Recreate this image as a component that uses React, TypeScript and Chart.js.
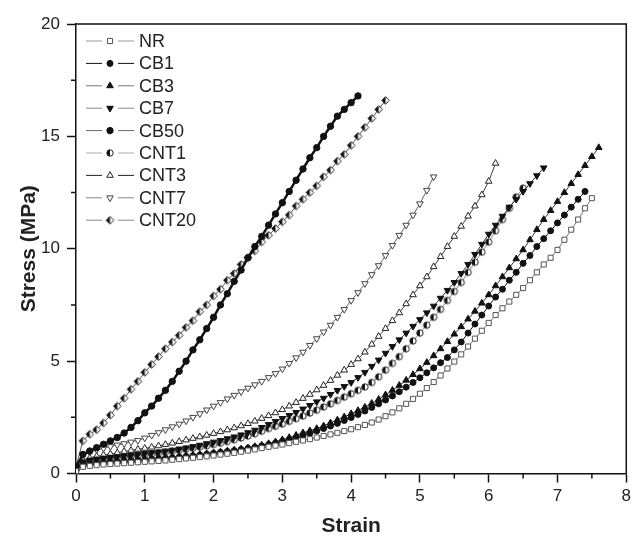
import React, { useEffect, useRef } from 'react';
import { Chart, registerables } from 'chart.js';

Chart.register(...registerables);

// strain grid (x values shared by all curves)
const strainGrid = [0, 0.1, 0.2, 0.3, 0.4, 0.5, 0.6, 0.7, 0.8, 0.9, 1, 1.1, 1.2, 1.3, 1.4, 1.5, 1.6, 1.7, 1.8, 1.9, 2, 2.1, 2.2, 2.3, 2.4, 2.5, 2.6, 2.7, 2.8, 2.9, 3, 3.1, 3.2, 3.3, 3.4, 3.5, 3.6, 3.7, 3.8, 3.9, 4, 4.1, 4.2, 4.3, 4.4, 4.5, 4.6, 4.7, 4.8, 4.9, 5, 5.1, 5.2, 5.3, 5.4, 5.5, 5.6, 5.7, 5.8, 5.9, 6, 6.1, 6.2, 6.3, 6.4, 6.5, 6.6, 6.7, 6.8, 6.9, 7, 7.1, 7.2, 7.3, 7.4, 7.5, 7.6];

const nrStress = [0.1, 0.3, 0.34, 0.37, 0.4, 0.42, 0.44, 0.46, 0.48, 0.5,
  0.52, 0.54, 0.56, 0.58, 0.61, 0.64, 0.67, 0.7, 0.73, 0.76,
  0.8, 0.84, 0.88, 0.92, 0.97, 1.02, 1.07, 1.13, 1.19, 1.24,
  1.29, 1.35, 1.41, 1.47, 1.53, 1.6, 1.67, 1.74, 1.81, 1.89,
  1.97, 2.06, 2.16, 2.27, 2.4, 2.55, 2.72, 2.9, 3.1, 3.32,
  3.55, 3.8, 4.07, 4.36, 4.67, 4.98, 5.3, 5.65, 6.0, 6.35,
  6.7, 7.05, 7.35, 7.65, 7.95, 8.25, 8.6, 8.95, 9.3, 9.6,
  9.95, 10.4, 10.85, 11.3, 11.8, 12.25];

const cb1Stress = [0.2, 0.4, 0.44, 0.47, 0.49, 0.51, 0.53, 0.55, 0.57, 0.59,
  0.61, 0.63, 0.66, 0.68, 0.7, 0.73, 0.76, 0.79, 0.82, 0.86,
  0.9, 0.94, 0.98, 1.02, 1.07, 1.12, 1.17, 1.23, 1.29, 1.36,
  1.43, 1.51, 1.6, 1.69, 1.79, 1.89, 2.0, 2.11, 2.23, 2.36,
  2.49, 2.63, 2.78, 2.94, 3.1, 3.27, 3.45, 3.64, 3.84, 4.05,
  4.26, 4.48, 4.7, 4.93, 5.16, 5.5, 5.85, 6.25, 6.65, 7.05,
  7.45, 7.85, 8.2, 8.6, 8.95, 9.35, 9.7, 10.1, 10.45, 10.8,
  11.15, 11.5, 11.85, 12.2, 12.55];

const cb3Stress = [0.2, 0.4, 0.44, 0.47, 0.5, 0.52, 0.55, 0.57, 0.6, 0.62,
  0.64, 0.66, 0.69, 0.71, 0.73, 0.76, 0.79, 0.82, 0.85, 0.88,
  0.92, 0.96, 1.0, 1.04, 1.09, 1.14, 1.2, 1.26, 1.33, 1.41,
  1.5, 1.6, 1.7, 1.81, 1.9, 2.0, 2.12, 2.25, 2.38, 2.52,
  2.66, 2.8, 2.95, 3.12, 3.3, 3.5, 3.7, 3.92, 4.15, 4.4,
  4.66, 4.94, 5.24, 5.55, 5.87, 6.2, 6.53, 6.87, 7.22, 7.58,
  7.95, 8.35, 8.75, 9.15, 9.55, 9.95, 10.4, 10.85, 11.3, 11.7,
  12.1, 12.5, 12.9, 13.3, 13.7, 14.1, 14.5];

const cb7Stress = [0.2, 0.5, 0.58, 0.63, 0.67, 0.71, 0.74, 0.78, 0.82, 0.86,
  0.89, 0.93, 0.96, 1.0, 1.04, 1.09, 1.14, 1.2, 1.26, 1.33,
  1.4, 1.47, 1.55, 1.63, 1.72, 1.82, 1.93, 2.05, 2.18, 2.32,
  2.45, 2.58, 2.72, 2.87, 3.03, 3.19, 3.35, 3.52, 3.7, 3.87,
  4.05, 4.27, 4.5, 4.77, 5.05, 5.35, 5.65, 5.95, 6.25, 6.55,
  6.85, 7.15, 7.45, 7.8, 8.15, 8.5, 8.9, 9.3, 9.75, 10.2,
  10.65, 11.05, 11.45, 11.85, 12.2, 12.55, 12.9, 13.25, 13.6];

const cb50Stress = [0.3, 0.85, 1.0, 1.15, 1.3, 1.45, 1.6, 1.8, 2.05, 2.35,
  2.7, 3.0, 3.35, 3.7, 4.1, 4.55, 5.0, 5.5, 5.95, 6.45,
  6.95, 7.5, 8.0, 8.55, 9.05, 9.6, 10.1, 10.55, 11.05, 11.55,
  12.05, 12.55, 13.05, 13.55, 14.05, 14.5, 15.0, 15.45, 15.9, 16.2,
  16.5, 16.8];

const cnt1Stress = [0.2, 0.5, 0.56, 0.6, 0.64, 0.67, 0.7, 0.73, 0.77, 0.8,
  0.84, 0.87, 0.91, 0.95, 0.99, 1.03, 1.08, 1.13, 1.18, 1.23,
  1.29, 1.35, 1.42, 1.5, 1.58, 1.67, 1.77, 1.88, 2.0, 2.1,
  2.2, 2.32, 2.44, 2.56, 2.69, 2.82, 2.96, 3.1, 3.25, 3.4,
  3.55, 3.7, 3.85, 4.05, 4.3, 4.6, 4.9, 5.2, 5.55, 5.9,
  6.25, 6.6, 6.95, 7.3, 7.7, 8.1, 8.5, 8.95, 9.4, 9.85,
  10.3, 10.8, 11.3, 11.8, 12.3, 12.7];

const cnt3Stress = [0.2, 0.6, 0.7, 0.76, 0.82, 0.87, 0.92, 0.98, 1.03, 1.08,
  1.12, 1.17, 1.23, 1.29, 1.35, 1.42, 1.49, 1.56, 1.63, 1.7,
  1.78, 1.86, 1.94, 2.03, 2.12, 2.22, 2.33, 2.45, 2.57, 2.7,
  2.84, 3.0, 3.16, 3.34, 3.52, 3.72, 3.92, 4.14, 4.37, 4.6,
  4.85, 5.1, 5.4, 5.75, 6.1, 6.45, 6.8, 7.15, 7.55, 7.95,
  8.35, 8.75, 9.2, 9.65, 10.1, 10.55, 11.0, 11.45, 11.9, 12.4,
  13.0, 13.8];

const cnt7Stress = [0.3, 0.85, 0.95, 1.05, 1.12, 1.2, 1.27, 1.33, 1.4, 1.47,
  1.58, 1.7, 1.82, 1.95, 2.08, 2.2, 2.34, 2.5, 2.66, 2.83,
  3.0, 3.16, 3.32, 3.48, 3.64, 3.8, 3.95, 4.1, 4.27, 4.45,
  4.65, 4.9, 5.15, 5.4, 5.7, 6.0, 6.3, 6.6, 6.95, 7.3,
  7.7, 8.05, 8.45, 8.85, 9.25, 9.7, 10.15, 10.6, 11.05, 11.5,
  12.0, 12.6, 13.2];

const cnt20Stress = [0.3, 1.45, 1.75, 1.95, 2.25, 2.6, 3.0, 3.35, 3.75, 4.1,
  4.5, 4.85, 5.2, 5.55, 5.85, 6.15, 6.5, 6.8, 7.2, 7.5,
  7.9, 8.2, 8.6, 8.9, 9.3, 9.6, 9.9, 10.3, 10.6, 10.9,
  11.2, 11.5, 11.9, 12.2, 12.5, 12.8, 13.2, 13.5, 13.9, 14.2,
  14.6, 15.0, 15.4, 15.8, 16.2, 16.6];

const seriesNames = ['NR', 'CB1', 'CB3', 'CB7', 'CB50', 'CNT1', 'CNT3', 'CNT7', 'CNT20'];
const seriesStress = [nrStress, cb1Stress, cb3Stress, cb7Stress, cb50Stress, cnt1Stress, cnt3Stress, cnt7Stress, cnt20Stress];

const xMin = 0, xMax = 8, xStep = 1;
const yMin = 0, yMax = 20, yStep = 5;
const xMinorTicks = [0.5, 1.5, 2.5, 3.5, 4.5, 5.5, 6.5, 7.5];
const yMinorTicks = [2.5, 7.5, 12.5, 17.5];

const FONT = "'Liberation Sans', Arial, Helvetica, sans-serif";

function makeHalfCircle(r: number): HTMLCanvasElement {
  const c = document.createElement('canvas');
  const s = Math.ceil(r * 2 + 3);
  c.width = s; c.height = s;
  const g = c.getContext('2d')!;
  const cx = s / 2, cy = s / 2;
  g.beginPath(); g.arc(cx, cy, r, 0, Math.PI * 2); g.fillStyle = '#fff'; g.fill();
  g.beginPath(); g.arc(cx, cy, r, Math.PI / 2, Math.PI * 1.5); g.closePath(); g.fillStyle = '#111'; g.fill();
  g.beginPath(); g.arc(cx, cy, r, 0, Math.PI * 2); g.strokeStyle = '#222'; g.lineWidth = 1; g.stroke();
  return c;
}

function makeHalfDiamond(r: number): HTMLCanvasElement {
  const c = document.createElement('canvas');
  const s = Math.ceil(r * 2 + 3);
  c.width = s; c.height = s;
  const g = c.getContext('2d')!;
  const cx = s / 2, cy = s / 2;
  g.beginPath(); g.moveTo(cx, cy - r); g.lineTo(cx + r, cy); g.lineTo(cx, cy + r); g.lineTo(cx - r, cy); g.closePath();
  g.fillStyle = '#fff'; g.fill();
  g.beginPath(); g.moveTo(cx, cy - r); g.lineTo(cx - r, cy); g.lineTo(cx, cy + r); g.closePath();
  g.fillStyle = '#111'; g.fill();
  g.beginPath(); g.moveTo(cx, cy - r); g.lineTo(cx + r, cy); g.lineTo(cx, cy + r); g.lineTo(cx - r, cy); g.closePath();
  g.strokeStyle = '#222'; g.lineWidth = 1; g.stroke();
  return c;
}

type Style = {
  pointStyle: any; radius: number; rotation: number; fill: string; stroke: string;
  line: string; lineWidth: number; legendLine: string;
};

export default function App() {
  const ref = useRef<HTMLCanvasElement | null>(null);

  useEffect(() => {
    if (!ref.current) return;
    const halfCircle = makeHalfCircle(3.2);
    const halfDiamond = makeHalfDiamond(3.8);
    const styles: Style[] = [
      { pointStyle: 'rect', radius: 3.6, rotation: 0, fill: '#fff', stroke: '#555', line: '#777', lineWidth: 1, legendLine: '#999' },
      { pointStyle: 'circle', radius: 3, rotation: 0, fill: '#111', stroke: '#111', line: '#111', lineWidth: 1, legendLine: '#111' },
      { pointStyle: 'triangle', radius: 3.8, rotation: 0, fill: '#111', stroke: '#111', line: '#333', lineWidth: 1, legendLine: '#777' },
      { pointStyle: 'triangle', radius: 3.8, rotation: 180, fill: '#111', stroke: '#111', line: '#333', lineWidth: 1, legendLine: '#888' },
      { pointStyle: 'circle', radius: 3.2, rotation: 0, fill: '#111', stroke: '#111', line: '#111', lineWidth: 2.5, legendLine: '#666' },
      { pointStyle: halfCircle, radius: 3.2, rotation: 0, fill: '#111', stroke: '#222', line: '#888', lineWidth: 1, legendLine: '#aaa' },
      { pointStyle: 'triangle', radius: 3.8, rotation: 0, fill: '#fff', stroke: '#222', line: '#444', lineWidth: 1, legendLine: '#222' },
      { pointStyle: 'triangle', radius: 3.8, rotation: 180, fill: '#fff', stroke: '#444', line: '#666', lineWidth: 1, legendLine: '#888' },
      { pointStyle: halfDiamond, radius: 3.8, rotation: 0, fill: '#111', stroke: '#222', line: '#555', lineWidth: 1, legendLine: '#888' },
    ];

    const datasets = seriesNames.map((name, i) => {
      const st = styles[i];
      const ys = seriesStress[i];
      return {
        label: name,
        data: ys.map((y, k) => ({ x: strainGrid[k], y })),
        borderColor: st.line,
        borderWidth: st.lineWidth,
        backgroundColor: st.fill,
        pointStyle: st.pointStyle,
        pointRadius: st.radius,
        pointRotation: st.rotation,
        pointBackgroundColor: st.fill,
        pointBorderColor: st.stroke,
        pointBorderWidth: 1,
        tension: 0,
        fill: false,
      };
    });

    const drawMarker = (ctx: CanvasRenderingContext2D, st: Style, x: number, y: number) => {
      if (typeof st.pointStyle !== 'string') {
        const img = st.pointStyle as HTMLCanvasElement;
        ctx.drawImage(img, x - img.width / 2, y - img.height / 2);
        return;
      }
      const r = st.radius;
      ctx.beginPath();
      if (st.pointStyle === 'circle') {
        ctx.arc(x, y, r, 0, Math.PI * 2);
      } else if (st.pointStyle === 'rect') {
        const h = r * Math.SQRT1_2;
        ctx.rect(x - h, y - h, 2 * h, 2 * h);
      } else if (st.pointStyle === 'triangle') {
        const rot = (st.rotation * Math.PI) / 180;
        for (let k = 0; k < 3; k++) {
          const a = rot - Math.PI / 2 + (k * 2 * Math.PI) / 3;
          const px = x + Math.cos(a) * r;
          const py = y + Math.sin(a) * r;
          if (k === 0) ctx.moveTo(px, py); else ctx.lineTo(px, py);
        }
        ctx.closePath();
      }
      ctx.fillStyle = st.fill;
      ctx.fill();
      ctx.strokeStyle = st.stroke;
      ctx.lineWidth = 1;
      ctx.stroke();
    };

    const framePlugin = {
      id: 'frameAndLegend',
      afterDraw(chart: any) {
        const ctx: CanvasRenderingContext2D = chart.ctx;
        const { left, right, top, bottom } = chart.chartArea;
        const xs = chart.scales.x;
        const ys = chart.scales.y;
        ctx.save();
        ctx.strokeStyle = '#111';
        ctx.lineWidth = 1.5;
        ctx.beginPath();
        ctx.moveTo(left, top);
        ctx.lineTo(right, top);
        ctx.lineTo(right, bottom);
        ctx.stroke();
        ctx.beginPath();
        for (const v of xMinorTicks) {
          const px = xs.getPixelForValue(v);
          ctx.moveTo(px, bottom);
          ctx.lineTo(px, bottom + 5);
        }
        for (const v of yMinorTicks) {
          const py = ys.getPixelForValue(v);
          ctx.moveTo(left, py);
          ctx.lineTo(left - 5, py);
        }
        ctx.stroke();

        // legend
        const lx = left + 10;
        const ly = top + 17;
        const rowH = 22.4;
        ctx.font = `18px ${FONT}`;
        ctx.textBaseline = 'middle';
        ctx.textAlign = 'left';
        seriesNames.forEach((name, i) => {
          const st = styles[i];
          const yy = ly + i * rowH;
          ctx.strokeStyle = st.legendLine;
          ctx.lineWidth = 1;
          ctx.beginPath();
          ctx.moveTo(lx, yy); ctx.lineTo(lx + 16, yy);
          ctx.moveTo(lx + 32, yy); ctx.lineTo(lx + 48, yy);
          ctx.stroke();
          drawMarker(ctx, st, lx + 24, yy);
          ctx.fillStyle = '#222';
          ctx.fillText(name, lx + 53, yy + 1);
        });
        ctx.restore();
      },
    };

    const chart = new Chart(ref.current, {
      type: 'line',
      data: { datasets: datasets as any },
      options: {
        animation: false,
        responsive: false,
        events: [],
        layout: { padding: { left: 0, right: 4, top: 24, bottom: 0 }, autoPadding: false },
        plugins: { legend: { display: false }, tooltip: { enabled: false } },
        scales: {
          x: {
            type: 'linear',
            min: xMin,
            max: xMax,
            afterFit: (s: any) => { s.height = 63.5; },
            ticks: { stepSize: xStep, padding: 4, color: '#222', font: { family: FONT, size: 17 } },
            grid: { display: true, drawOnChartArea: false, drawTicks: true, tickLength: 9, tickColor: '#111', tickWidth: 1.5 },
            border: { display: true, color: '#111', width: 1.5 },
            title: { display: true, text: 'Strain', color: '#222', padding: { top: 0, bottom: 0 }, font: { family: FONT, size: 21, weight: 'bold', lineHeight: 1 } },
          },
          y: {
            type: 'linear',
            min: yMin,
            max: yMax,
            afterFit: (s: any) => { s.width = 76; },
            ticks: { stepSize: yStep, padding: 7, color: '#222', font: { family: FONT, size: 17 } },
            grid: { display: true, drawOnChartArea: false, drawTicks: true, tickLength: 9, tickColor: '#111', tickWidth: 1.5 },
            border: { display: true, color: '#111', width: 1.5 },
            title: { display: true, text: 'Stress (MPa)', color: '#222', padding: { top: 17, bottom: 0 }, font: { family: FONT, size: 21, weight: 'bold', lineHeight: 1.2 } },
          },
        },
      },
      plugins: [framePlugin],
    });
    return () => chart.destroy();
  }, []);

  return (
    <div style={{ position: 'absolute', left: 0, top: 0, width: 635, height: 537, background: '#fff' }}>
      <canvas ref={ref} width={635} height={537} style={{ display: 'block', width: 635, height: 537 }} />
    </div>
  );
}
